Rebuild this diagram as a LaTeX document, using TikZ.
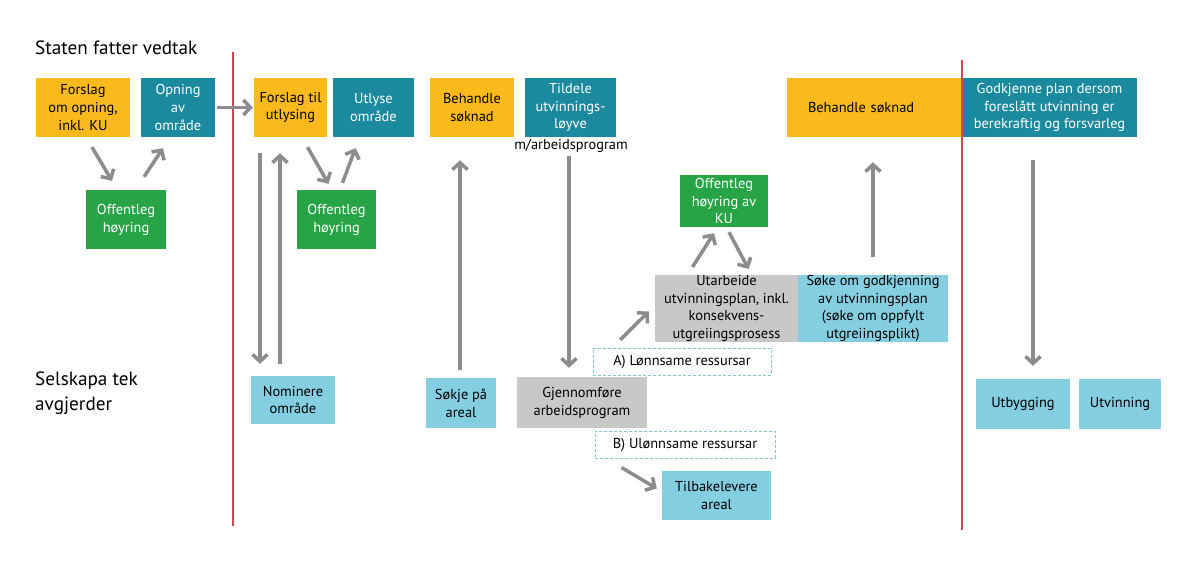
\documentclass[tikz,border=0pt]{standalone}
\usepackage{fontspec}
\setmainfont{PT Sans}
\usetikzlibrary{arrows.meta,calc}
\definecolor{cyel}{HTML}{FBBA1C}
\definecolor{cteal}{HTML}{1C8A9E}
\definecolor{cgreen}{HTML}{27A546}
\definecolor{clblue}{HTML}{84CEE1}
\definecolor{cgray}{HTML}{C8C8C8}
\definecolor{carrow}{HTML}{8C8C8C}
\definecolor{cred}{HTML}{D6454F}
\definecolor{cdash}{HTML}{82C3CC}
\tikzset{
  box/.style={inner sep=0pt, align=center, font=\fontsize{14.4}{17.8}\selectfont},
  yel/.style={box, fill=cyel, text=black},
  teal/.style={box, fill=cteal, text=white},
  grn/.style={box, fill=cgreen, text=white},
  lbl/.style={box, fill=clblue, text=black},
  gry/.style={box, fill=cgray, text=black},
  dsh/.style={box, draw=cdash, dash pattern=on 3pt off 2pt, line width=1pt},
  arr/.style={draw=carrow, line width=3.5pt, -{Straight Barb[length=7pt,width=15pt,line width=3.5pt]}},
  sep/.style={draw=cred, line width=2.8pt},
  head/.style={anchor=west, inner sep=0pt, align=left, font=\fontsize{19.2}{25}\selectfont}
}
\begin{document}
\begin{tikzpicture}[x=1pt,y=-1pt]
\useasboundingbox (0,0) rectangle (1198,568);
\fill[white] (0,0) rectangle (1198,568);

% headings
\node[head] (h1) at (35,48) {Staten fatter vedtak};
\node[head] (h2) at (35,393.5) {Selskapa tek\\avgjerder};

% top row
\node[yel, minimum width=94pt, minimum height=59pt] (n1) at (83,107.5) {Forslag\\om opning,\\inkl. KU};
\node[teal, minimum width=74pt, minimum height=59pt] (n2) at (178,107.5) {Opning\\av\\område};
\node[grn, minimum width=80pt, minimum height=59pt] (n3) at (126,219.5) {Offentleg\\høyring};
\node[yel, minimum width=73pt, minimum height=59pt] (n4) at (290.5,107.5) {Forslag til\\utlysing};
\node[teal, minimum width=81pt, minimum height=59pt] (n5) at (373.5,107.5) {Utlyse\\område};
\node[grn, minimum width=79pt, minimum height=59pt] (n6) at (336.5,219.5) {Offentleg\\høyring};
\node[yel, minimum width=84pt, minimum height=59pt] (n7) at (472,107.5) {Behandle\\søknad};
\node[teal, minimum width=91pt, minimum height=59pt] (n8) at (570.5,107.5) {Tildele\\utvinnings-\\løyve};
\node[box, anchor=north] (n8b) at (571,139) {m/arbeidsprogram};
\node[yel, minimum width=175pt, minimum height=59pt, text width=175pt, align=left] (n9) at (874.5,107.5) {\hspace*{21pt}Behandle søknad};
\node[teal, minimum width=175pt, minimum height=59pt] (n10) at (1049.5,107.5) {Godkjenne plan dersom\\foreslått utvinning er\\berekraftig og forsvarleg};

% middle
\node[grn, minimum width=88pt, minimum height=52pt] (n11) at (724,201) {Offentleg\\høyring av\\KU};
\node[gry, minimum width=143pt, minimum height=65pt] (n12) at (726.5,308.5) {Utarbeide\\utvinningsplan, inkl.\\konsekvens-\\utgreiingsprosess};
\node[lbl, minimum width=150pt, minimum height=65pt] (n13) at (873,308.5) {Søke om godkjenning\\av utvinningsplan\\(søke om oppfylt\\utgreiingsplikt)};
\node[dsh, minimum width=178pt, minimum height=27pt] (n14) at (682,361.5) {A) Lønnsame ressursar};
\node[gry, minimum width=130pt, minimum height=51pt] (n15) at (582,402.5) {Gjennomføre\\arbeidsprogram};
\node[dsh, minimum width=180pt, minimum height=27pt] (n16) at (685,444.5) {B) Ulønnsame ressursar};
\node[lbl, minimum width=109pt, minimum height=49pt] (n17) at (716.5,495.5) {Tilbakelevere\\areal};

% bottom row
\node[lbl, minimum width=84pt, minimum height=48pt] (n18) at (293,400) {Nominere\\område};
\node[lbl, minimum width=70pt, minimum height=50pt] (n19) at (461,403) {Søkje på\\areal};
\node[lbl, minimum width=94pt, minimum height=50pt] (n20) at (1023,404) {Utbygging};
\node[lbl, minimum width=82pt, minimum height=50pt] (n21) at (1120,404) {Utvinning};

% separators
\coordinate (r1t) at (233,52); \coordinate (r1b) at (233,526);
\coordinate (r2t) at (962,60); \coordinate (r2b) at (962,530);
\draw[sep] (r1t) -- (r1b);
\draw[sep] (r2t) -- (r2b);

% arrows
\draw[arr] ($(n1.south)+(9,10)$) -- ($(n3.north)+(-14,-9)$);
\draw[arr] ($(n3.north)+(18,-13)$) -- ($(n2.south)+(-15,11)$);
\draw[arr] ($(n2.east)+(2,0)$) -- ($(n4.west)+(-1,0)$);
\draw[arr] ($(n4.south)+(17,10)$) -- ($(n6.north)+(-8,-6)$);
\draw[arr] ($(n6.north)+(6,-7)$) -- ($(n5.south)+(-18,11)$);
\draw[arr] ($(n4.south)+(-30.5,16)$) -- ($(n18.north)+(-33,-12)$);
\draw[arr] ($(n18.north)+(-13,-12)$) -- ($(n4.south)+(-10.5,16)$);
\draw[arr] ($(n19.north)+(-1,-8)$) -- ($(n7.south)+(-12,23)$);
\draw[arr] ($(n8b.south)+(-2,3)$) -- ($(n15.north)+(-13,-9)$);
\draw[arr] ($(n15.north east)+(-27,-37)$) -- ($(n12.west)+(-6,3)$);
\draw[arr] ($(n12.north)+(-34,-8)$) -- ($(n11.south)+(-10,6)$);
\draw[arr] ($(n11.south)+(5,5)$) -- ($(n12.north)+(22,-6)$);
\draw[arr] ($(n13.north)+(0,-18)$) -- ($(n9.south)+(-1.5,25)$);
\draw[arr] ($(n10.south)+(-16.5,23)$) -- ($(n20.north)+(10,-13)$);
\draw[arr] ($(n16.south west)+(27,9)$) -- ($(n17.west)+(-5,-7)$);
\end{tikzpicture}
\end{document}
